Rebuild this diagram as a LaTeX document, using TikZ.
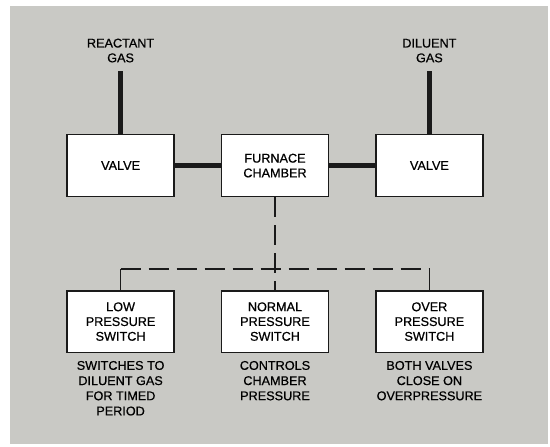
\documentclass[tikz,border=0pt]{standalone}
\usepackage{fontspec}
\setmainfont{Liberation Sans}[FakeBold=1]
\newfontfamily\plotfont{Liberation Sans}[FakeBold=0.6]
\usepackage{tikz}
\usetikzlibrary{positioning}
\definecolor{panel}{HTML}{C9C9C5}
\definecolor{ink}{HTML}{1A1A1A}
\tikzset{
    box/.style={rectangle, draw=ink, fill=white, line width=1pt,
                minimum width=2.675cm, minimum height=1.54cm, align=center,
                font=\plotfont\fontsize{9}{10.5}\selectfont, inner sep=2pt},
    lbl/.style={align=center, font=\plotfont\fontsize{9}{10.5}\selectfont, inner sep=6pt},
    note/.style={align=center, font=\plotfont\fontsize{9}{10.8}\selectfont, inner sep=2pt},
    pipe/.style={line width=3pt, color=ink},
    wire/.style={line width=1pt, color=ink},
    ctrl/.style={wire, dash pattern=on 0.5cm off 0.2cm},
}
\begin{document}
\begin{tikzpicture}[node distance=1.15cm]

  \useasboundingbox (0,0) rectangle (13.75,11.15);
  \fill[panel] (0.25,0.05) rectangle (13.7,11.0);

  \node[box] (fc) at (6.875,7.01) {FURNACE\\CHAMBER};
  \node[box, left=of fc] (vr) {VALVE};
  \node[box, right=of fc] (vd) {VALVE};

  \node[lbl, above=1.575cm of vr] (rg) {REACTANT\\GAS};
  \node[lbl, above=1.575cm of vd] (dg) {DILUENT\\GAS};

  \node[box, below=2.325cm of fc] (ns) {NORMAL\\PRESSURE\\SWITCH};
  \node[box, left=of ns] (ls) {LOW\\PRESSURE\\SWITCH};
  \node[box, right=of ns] (os) {OVER\\PRESSURE\\SWITCH};

  \node[note, below=0.12cm of ls] (lsn) {SWITCHES TO\\DILUENT GAS\\FOR TIMED\\PERIOD};
  \node[note, below=0.12cm of ns] (nsn) {CONTROLS\\CHAMBER\\PRESSURE};
  \node[note, below=0.12cm of os] (osn) {BOTH VALVES\\CLOSE ON\\OVERPRESSURE};

  \coordinate[above=0.525cm of ls.north] (jl);
  \coordinate[above=0.525cm of os.north] (jr);

  \draw[pipe] (rg) -- (vr);
  \draw[pipe] (dg) -- (vd);
  \draw[pipe] (vr) -- (fc);
  \draw[pipe] (fc) -- (vd);

  \draw[ctrl] (fc.south) -- (ns.north);
  \draw[wire] (ls.north) -- (jl);
  \draw[ctrl] (jl) -- (jr);
  \draw[wire] (jr) -- (os.north);

\end{tikzpicture}
\end{document}
